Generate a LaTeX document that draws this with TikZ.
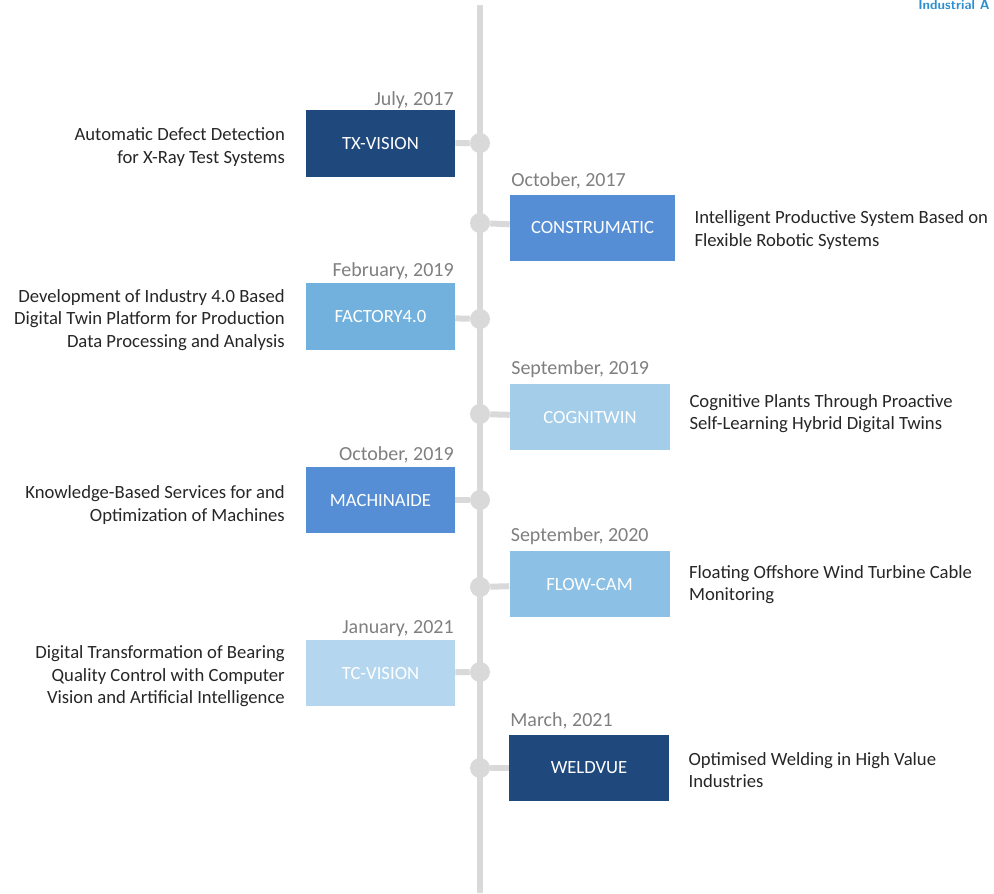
\documentclass[tikz,border=0pt]{standalone}
\usepackage{fontspec}
\setmainfont{Carlito}
\usetikzlibrary{positioning}
\definecolor{tline}{HTML}{D9D9D9}
\definecolor{navy}{HTML}{1F497D}
\definecolor{midblue}{HTML}{558ED5}
\definecolor{skyblue}{HTML}{72B1DE}
\definecolor{paleblue}{HTML}{A3CDE9}
\definecolor{lightblue}{HTML}{B4D7EF}
\definecolor{datecol}{HTML}{7F7F7F}
\definecolor{textcol}{HTML}{262626}
\definecolor{headcol}{HTML}{2E8FD0}
\tikzset{
proj/.style={fill=#1,text=white,minimum height=50pt,inner sep=0pt,
  font={\fontsize{14pt}{16pt}\selectfont}},
lproj/.style={proj=#1,minimum width=111.75pt},
rproj/.style={proj=#1,minimum width=120pt},
dot/.style={circle,fill=tline,minimum size=15pt,inner sep=0pt},
conn/.style={draw=tline,line width=4.5pt},
date/.style={text=datecol,inner sep=1pt,font={\fontsize{15pt}{17pt}\selectfont}},
ldate/.style={date,anchor=south east,yshift=1pt},
rdate/.style={date,anchor=south west,yshift=3pt},
desc/.style={text=textcol,inner sep=0pt,font={\fontsize{14pt}{17pt}\selectfont}},
ldesc/.style={desc,align=right,left=15.5pt of #1,yshift=-2.5pt},
rdesc/.style={desc,align=left,right=14.25pt of #1,yshift=-1.5pt}
}
\begin{document}
\begin{tikzpicture}[x=0.75pt,y=-0.75pt]
\useasboundingbox (0,0) rectangle (994,893);
% timeline
\coordinate (top) at (480,5);
\coordinate (bot) at (480,893);
\draw[conn] (top) -- (bot);
\node[anchor=north west,inner sep=0pt,text=headcol,
  font={\fontsize{10pt}{11pt}\bfseries\sffamily\addfontfeature{LetterSpace=12}}] (head) at (918,0) {Industrial A};
% dots
\foreach \y [count=\i] in {143,223,319,414,500,587,672,768}
  \node[dot] (c\i) at (480,\y) {};
% left projects
\node[lproj=navy] (b1) at (380.5,143.5) {TX-VISION};
\node[lproj=skyblue] (b3) at (380.5,316.5) {FACTORY4.0};
\node[lproj=midblue] (b5) at (380.5,500) {MACHINAIDE};
\node[lproj=lightblue] (b7) at (380.5,673) {TC-VISION};
% right projects
\node[rproj=midblue,minimum width=123.75pt] (b2) at (592.5,228) {CONSTRUMATIC};
\node[rproj=paleblue] (b4) at (590,417) {COGNITWIN};
\node[rproj=paleblue,fill=lightblue!40!skyblue] (b6) at (589.5,584) {FLOW-CAM};
\node[rproj=navy] (b8) at (589,768) {WELDVUE};
% connectors
\foreach \i in {1,...,8}
  \draw[conn] (c\i) -- (b\i);
% dates
\node[ldate,yshift=-1pt] (d1) at (b1.north east) {July, 2017};
\node[rdate] (d2) at (b2.north west) {October, 2017};
\node[ldate] (d3) at (b3.north east) {February, 2019};
\node[rdate] (d4) at (b4.north west) {September, 2019};
\node[ldate] (d5) at (b5.north east) {October, 2019};
\node[rdate] (d6) at (b6.north west) {September, 2020};
\node[ldate] (d7) at (b7.north east) {January, 2021};
\node[rdate] (d8) at (b8.north west) {March, 2021};
% descriptions
\node[ldesc=b1] (t1) {Automatic Defect Detection\\for X-Ray Test Systems};
\node[rdesc=b2] (t2) {Intelligent Productive System Based on\\Flexible Robotic Systems};
\node[ldesc=b3] (t3) {Development of Industry 4.0 Based\\Digital Twin Platform for Production\\Data Processing and Analysis};
\node[rdesc=b4,yshift=4pt] (t4) {Cognitive Plants Through Proactive\\Self-Learning Hybrid Digital Twins};
\node[ldesc=b5,yshift=-1.5pt] (t5) {Knowledge-Based Services for and\\Optimization of Machines};
\node[rdesc=b6,yshift=1pt] (t6) {Floating Offshore Wind Turbine Cable\\Monitoring};
\node[ldesc=b7] (t7) {Digital Transformation of Bearing\\Quality Control with Computer\\Vision and Artificial Intelligence};
\node[rdesc=b8] (t8) {Optimised Welding in High Value\\Industries};
\end{tikzpicture}
\end{document}
